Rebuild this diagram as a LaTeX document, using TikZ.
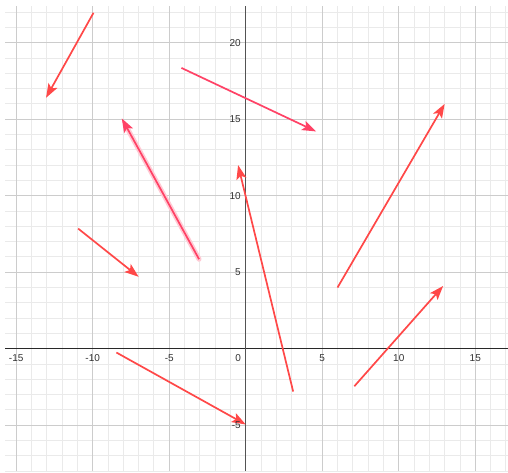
\documentclass[tikz,border=0pt]{standalone}
\usepackage{fontspec}
\setmainfont{Liberation Sans}
\usetikzlibrary{arrows.meta}
\definecolor{vred}{RGB}{255,72,72}
\definecolor{vpink}{RGB}{255,66,102}
\definecolor{minorgrid}{RGB}{234,234,234}
\definecolor{majorgrid}{RGB}{204,204,204}
\definecolor{axisc}{RGB}{40,40,40}
\definecolor{labc}{RGB}{50,50,50}
\tikzset{
  vec/.style={line width=1.7pt, -{Stealth[length=14pt,width=10pt,inset=3pt]}},
  redvec/.style={vec, draw=vred, fill=vred},
  pinkvec/.style={vec, draw=vpink, fill=vpink},
  glow/.style={line width=5pt, draw=vpink!28, line cap=round, shorten >=12pt},
  xlab/.style={anchor=north, font=\fontsize{10}{11}\selectfont, text=labc, inner sep=1pt},
  ylab/.style={anchor=east, font=\fontsize{10}{11}\selectfont, text=labc, inner sep=1pt},
}
\begin{document}
\begin{tikzpicture}[x=15.3pt,y=15.3pt]
\useasboundingbox (-16.06,-8.12) rectangle (17.14,22.79);
\fill[white] (-16.06,-8.12) rectangle (17.14,22.79);
% minor grid
\foreach \i in {-15,...,17} \draw[minorgrid, line width=0.9pt] (\i,-8.0) -- (\i,22.4);
\foreach \j in {-8,...,22} \draw[minorgrid, line width=0.9pt] (-15.73,\j) -- (17.14,\j);
% major grid
\foreach \i in {-15,-10,...,15} \draw[majorgrid, line width=1.2pt] (\i,-8.0) -- (\i,22.4);
\foreach \j in {-5,0,...,20} \draw[majorgrid, line width=1.2pt] (-15.73,\j) -- (17.14,\j);
% axes
\draw[axisc, line width=1.1pt] (-15.73,0) -- (17.14,0);
\draw[axisc!80, line width=1.1pt] (0,-8.0) -- (0,22.4);
% vector end points
\coordinate (a1) at (-9.95,21.95); \coordinate (b1) at (-13.05,16.4);
\coordinate (a2) at (-4.2,18.35);  \coordinate (b2) at (4.6,14.2);
\coordinate (a3) at (-3.05,5.85);  \coordinate (b3) at (-8.1,15.05);
\coordinate (a4) at (3.1,-2.8);    \coordinate (b4) at (-0.5,12.0);
\coordinate (a5) at (6.0,4.0);     \coordinate (b5) at (13.0,16.0);
\coordinate (a6) at (7.1,-2.45);   \coordinate (b6) at (12.9,4.1);
\coordinate (a7) at (-10.95,7.85); \coordinate (b7) at (-7.0,4.7);
\coordinate (a8) at (-8.45,-0.25); \coordinate (b8) at (0,-4.95);
% vectors
\draw[glow] (a3) -- (b3);
\draw[redvec] (a1) -- (b1);
\draw[pinkvec] (a2) -- (b2);
\draw[pinkvec] (a3) -- (b3);
\draw[redvec] (a4) -- (b4);
\draw[redvec] (a5) -- (b5);
\draw[redvec] (a6) -- (b6);
\draw[redvec] (a7) -- (b7);
\draw[redvec] (a8) -- (b8);
% labels
\foreach \i in {-15,-10,-5,5,10,15} \node[xlab] (x\i) at (\i,-0.3) {\i};
\node[xlab] (x0) at (-0.5,-0.3) {0};
\foreach \j in {-5,5,10,15,20} \node[ylab] (y\j) at (-0.25,\j) {\j};
\end{tikzpicture}
\end{document}
